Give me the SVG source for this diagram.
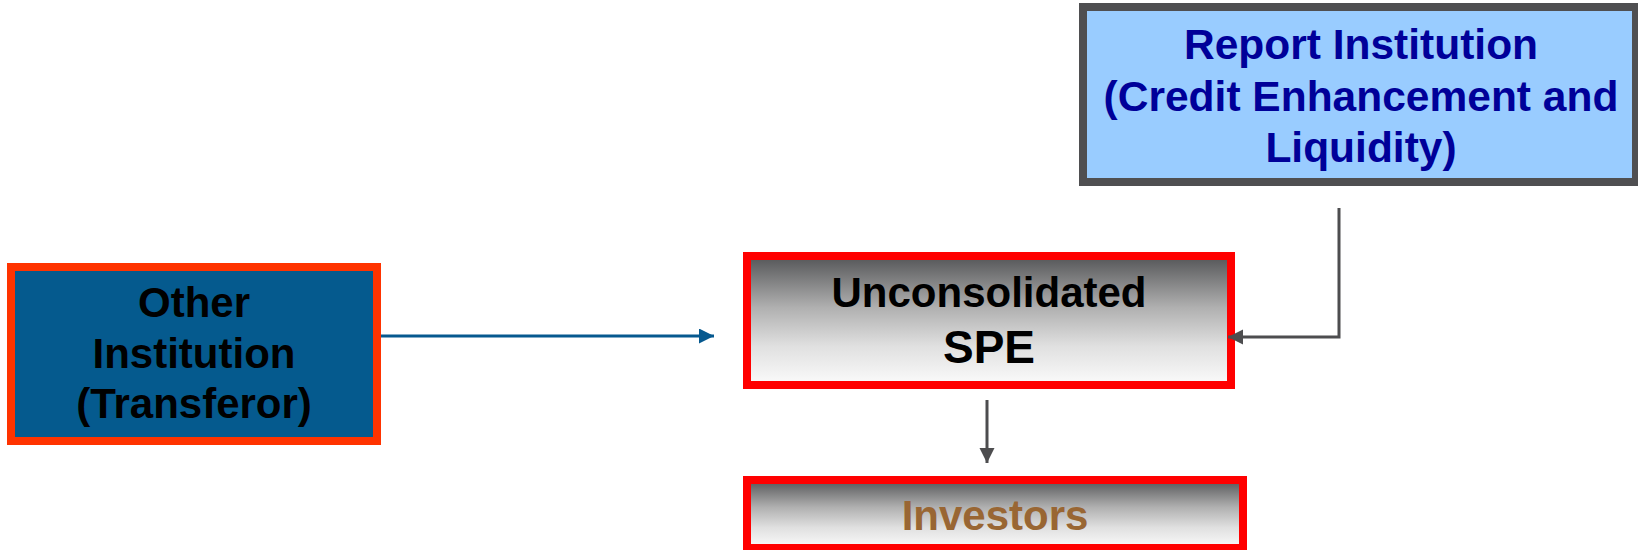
<svg xmlns="http://www.w3.org/2000/svg" width="1638" height="550" viewBox="0 0 1638 550">
  <defs>
    <linearGradient id="gray" x1="0" y1="0" x2="0" y2="1">
      <stop offset="0" stop-color="#545557"/>
      <stop offset="0.4" stop-color="#b0b0b0"/>
      <stop offset="0.7" stop-color="#e0e0e0"/>
      <stop offset="1" stop-color="#fbfbfb"/>
    </linearGradient>
    <marker id="arrBlue" markerUnits="userSpaceOnUse" markerWidth="16" markerHeight="16" refX="15" refY="7.5" orient="auto">
      <path d="M0,0 L15,7.5 L0,15 z" fill="#06598f"/>
    </marker>
    <marker id="arrGray" markerUnits="userSpaceOnUse" markerWidth="16" markerHeight="16" refX="15" refY="7.5" orient="auto">
      <path d="M0,0 L15,7.5 L0,15 z" fill="#4d4d4f"/>
    </marker>
  </defs>
  <style>
    text { font-family: "Liberation Sans", Arial, sans-serif; font-weight: bold; text-anchor: middle; }
    .red { stroke: #ff0000; stroke-width: 8; fill: url(#gray); }
    .conn { fill: none; stroke-width: 3; }
  </style>
  <rect width="1638" height="550" fill="#ffffff"/>

  <g id="report-institution">
    <rect x="1083" y="7" width="553" height="175" fill="#99ccff" stroke="#4f4f51" stroke-width="8"/>
    <text x="1361" y="59" font-size="42.5" fill="#000099">Report Institution</text>
    <text x="1361" y="111" font-size="42.5" fill="#000099">(Credit Enhancement and</text>
    <text x="1361" y="162" font-size="42.5" fill="#000099">Liquidity)</text>
  </g>

  <g id="other-institution">
    <rect x="11" y="267" width="366" height="174" fill="#055a8e" stroke="#ff3300" stroke-width="8"/>
    <text x="194" y="317" font-size="42" fill="#000000">Other</text>
    <text x="194" y="368" font-size="42" fill="#000000">Institution</text>
    <text x="194" y="418" font-size="42" fill="#000000">(Transferor)</text>
  </g>

  <g id="unconsolidated-spe">
    <rect class="red" x="747" y="256" width="484" height="129"/>
    <text x="989" y="307" font-size="42" fill="#000000">Unconsolidated</text>
    <text x="989" y="363" font-size="46" fill="#000000">SPE</text>
  </g>

  <g id="investors">
    <rect class="red" x="747" y="480" width="496" height="68"/>
    <text x="995" y="530" font-size="42" fill="#996633">Investors</text>
  </g>

  <g id="connectors">
    <line class="conn" x1="381" y1="336" x2="714" y2="336" stroke="#06598f" stroke-width="2.5" marker-end="url(#arrBlue)"/>
    <line class="conn" x1="987" y1="400" x2="987" y2="463" stroke="#4d4d4f" marker-end="url(#arrGray)"/>
    <polyline class="conn" points="1339,208 1339,337 1228,337" stroke="#4d4d4f" marker-end="url(#arrGray)"/>
  </g>
</svg>
